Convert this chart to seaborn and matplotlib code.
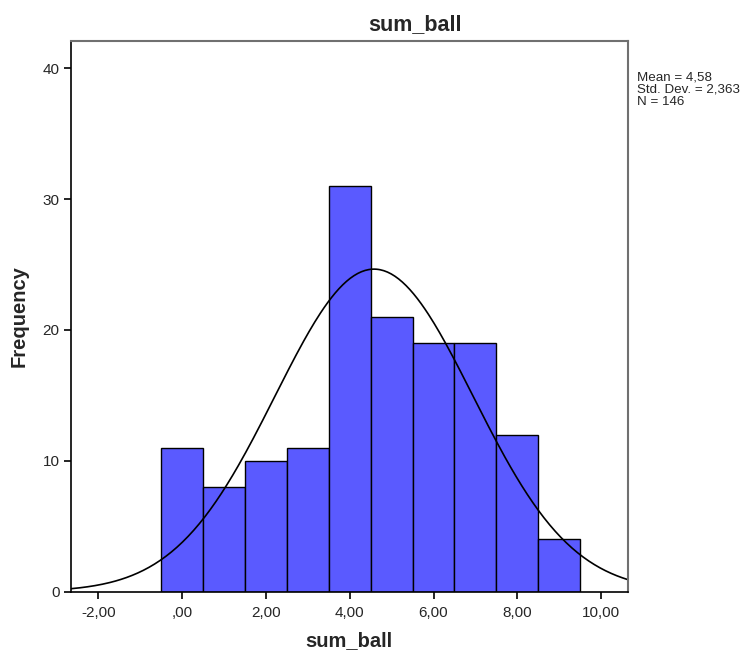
import numpy as np
import pandas as pd
import matplotlib
matplotlib.use("Agg")
import matplotlib.pyplot as plt
import seaborn as sns
from matplotlib.ticker import FuncFormatter

# histogram data (bin centres and counts)
scores = [0, 1, 2, 3, 4, 5, 6, 7, 8, 9]
counts = [11, 8, 10, 11, 31, 21, 19, 19, 12, 4]
mean_val = 4.58
std_val = 2.363
n_total = 146

sns.set_style("white")
plt.rcParams['font.family'] = ['Liberation Sans', 'DejaVu Sans']

fig = plt.figure(figsize=(7.52, 6.52), dpi=100)
ax = fig.add_axes([0.094, 0.0925, 0.741, 0.845])

df = pd.DataFrame({"sum_ball": scores, "n": counts})
sns.histplot(data=df, x="sum_ball", weights="n", binwidth=1, binrange=(-0.5, 9.5),
             color="#5a5aff", alpha=1, edgecolor="black", linewidth=1.0, ax=ax)

# fitted normal curve
xs = np.linspace(-2.66, 10.64, 300)
ys = n_total * 1.0 / (std_val * np.sqrt(2 * np.pi)) * np.exp(-0.5 * ((xs - mean_val) / std_val) ** 2)
sns.lineplot(x=xs, y=ys, color="black", linewidth=1.2, ax=ax)

ax.set_xlim(-2.66, 10.64)
ax.set_ylim(0, 42.1)
ax.set_xticks([-2, 0, 2, 4, 6, 8, 10])
ax.set_yticks([0, 10, 20, 30, 40])

def fmt(v, pos):
    s = "%.2f" % v
    s = s.replace(".", ",")
    if s.startswith("0,"):
        s = s[1:]
    return s

ax.xaxis.set_major_formatter(FuncFormatter(fmt))
ax.tick_params(axis="both", direction="out", length=5, width=1.2, color="black",
               labelsize=11, pad=3, bottom=True, left=True)
ax.tick_params(axis="x", pad=5)

for side in ["left", "bottom"]:
    ax.spines[side].set_color("black")
    ax.spines[side].set_linewidth(1.2)
for side in ["top", "right"]:
    ax.spines[side].set_color("#707070")
    ax.spines[side].set_linewidth(1.5)

ax.set_xlabel("sum_ball", fontsize=14.5, fontweight="bold", labelpad=8)
ax.set_ylabel("Frequency", fontsize=14.5, fontweight="bold", labelpad=10)
fig.text(0.552, 0.962, "sum_ball", fontsize=15.5, fontweight="bold",
         ha="center", va="center")

fig.text(0.847, 0.890, "Mean = 4,58\nStd. Dev. = 2,363\nN = 146", fontsize=9.6,
         va="top", ha="left", linespacing=1.03)

fig.savefig("out.png", dpi=100, facecolor="white")
